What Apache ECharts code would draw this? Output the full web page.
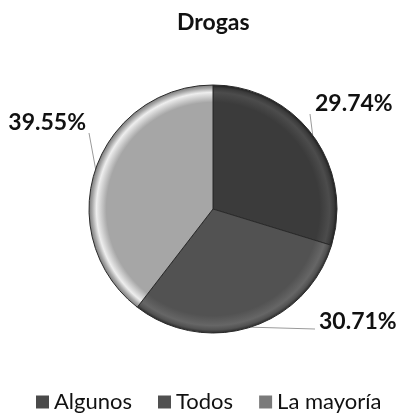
<!DOCTYPE html>
<html>
<head>
<meta charset="utf-8">
<script src="https://cdn.jsdelivr.net/npm/echarts@6/dist/echarts.min.js"></script>
<style>
  html, body { margin: 0; padding: 0; background: #fff; }
  #chart { width: 400px; height: 419px; }
</style>
</head>
<body>
<div id="chart"></div>
<script>
// Drug-use responses, percent of respondents
const categories = ['Algunos', 'Todos', 'La mayoría'];
const values = [29.74, 30.71, 39.55];
const sliceColors = ['#3b3b3b', '#525252', '#a6a6a6'];
const rimColors = ['#4c4c4c', '#666666', '#eeeeee'];
const edgeColors = ['#1f1f1f', '#2c2c2c', '#7c7c7c'];
const legendColors = ['#4a4a4a', '#505050', '#7a7a7a'];

const CX = 213, CY = 209, R = 124;

// beveled look: flat colour, a soft rim highlight, then a darker outer edge
function shade(i) {
  return {
    type: 'radial', x: CX, y: CY, r: R, global: true,
    colorStops: [
      { offset: 0, color: sliceColors[i] },
      { offset: 0.86, color: sliceColors[i] },
      { offset: 0.94, color: rimColors[i] },
      { offset: 0.975, color: sliceColors[i] },
      { offset: 1, color: edgeColors[i] }
    ]
  };
}

// label anchor spots and where each leader line ends
const labelSpots = [
  { x: 315, y: 104, align: 'left', end: [310, 114] },
  { x: 319, y: 322, align: 'left', end: [315, 329] },
  { x: 86, y: 123, align: 'right', end: [89, 133] }
];

const chart = echarts.init(document.getElementById('chart'));
chart.setOption({
  animation: false,
  title: {
    text: 'Drogas',
    left: 172,
    top: 6,
    textStyle: { fontFamily: 'Lato', fontWeight: 'bold', fontSize: 23, color: '#111' }
  },
  legend: {
    bottom: 1,
    left: 31,
    itemWidth: 13,
    itemHeight: 13,
    itemGap: 26,
    icon: 'rect',
    textStyle: { fontFamily: 'Lato', fontSize: 22, color: '#111' },
    data: categories.map((name, i) => ({
      name,
      itemStyle: { color: legendColors[i], borderWidth: 0 }
    }))
  },
  series: [{
    type: 'pie',
    center: [CX, CY],
    radius: R,
    startAngle: 90,
    clockwise: true,
    data: categories.map((name, i) => ({
      name,
      value: values[i],
      itemStyle: { color: shade(i) }
    })),
    itemStyle: { borderColor: '#2a2a2a', borderWidth: 1 },
    label: {
      show: true,
      overflow: 'none',
      formatter: p => p.value.toFixed(2) + '%',
      fontFamily: 'Lato',
      fontWeight: 'bold',
      fontSize: 23,
      color: '#111'
    },
    labelLine: {
      show: true,
      length: 10,
      length2: 4,
      lineStyle: { color: '#9a9a9a', width: 1 }
    },
    labelLayout: p => {
      const s = labelSpots[p.dataIndex];
      const start = p.labelLinePoints ? p.labelLinePoints[0] : null;
      const out = { x: s.x, y: s.y, align: s.align, verticalAlign: 'middle' };
      if (start) out.labelLinePoints = [start, s.end, s.end];
      return out;
    }
  }]
});
</script>
</body>
</html>
